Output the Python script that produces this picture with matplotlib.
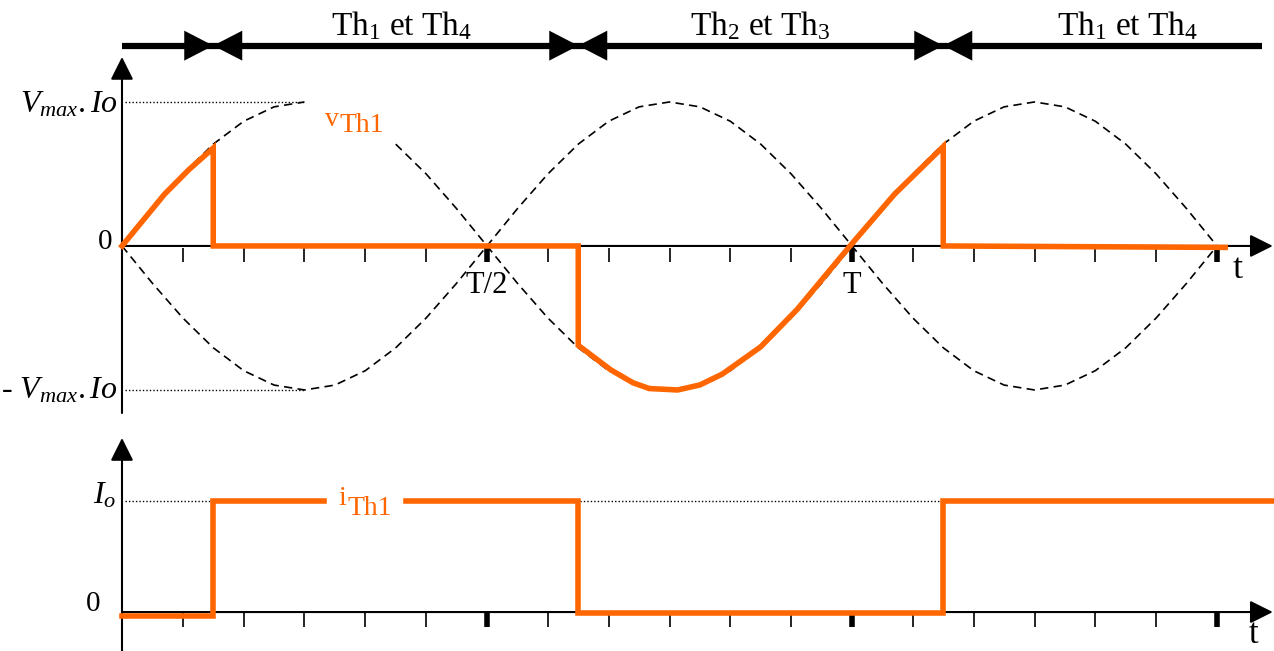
import numpy as np
import matplotlib
matplotlib.use('Agg')
import matplotlib.pyplot as plt
from matplotlib.patches import Rectangle

plt.rcParams['font.family'] = 'Liberation Serif'
plt.rcParams['mathtext.fontset'] = 'custom'
plt.rcParams['mathtext.rm'] = 'Liberation Serif'
plt.rcParams['mathtext.it'] = 'Liberation Serif:italic'

orange = '#ff6600'

# source waveform v = Vmax.sin(wt), sampled every 15 deg (in units of Vmax)
sine_deg = np.arange(0, 541, 15)
sine_val = [0, 0.259, 0.5, 0.707, 0.866, 0.966, 1, 0.966, 0.866, 0.707, 0.5, 0.259,
            0, -0.259, -0.5, -0.707, -0.866, -0.966, -1, -0.966, -0.866, -0.707, -0.5, -0.259,
            0, 0.259, 0.5, 0.707, 0.866, 0.966, 1, 0.966, 0.866, 0.707, 0.5, 0.259, 0]

# thyristor voltage vTh1 (units of Vmax)
vth_deg = [0, 21, 33, 45, 45, 225, 225, 241, 252, 260, 274, 285, 296, 315, 333, 359, 381, 405, 405, 544]
vth_val = [0, 0.36, 0.53, 0.68, 0, 0, -0.69, -0.86, -0.95, -0.99, -1.0, -0.965, -0.89, -0.70, -0.44,
           0, 0.36, 0.69, 0, -0.01]

# thyristor current iTh1 (units of Io)
ith_deg = [0, 45, 45, 225, 225, 405, 405, 568]
ith_val = [-0.04, -0.04, 1, 1, -0.01, -0.01, 1, 1]

# firing instants and conduction labels
switch_deg = [45, 225, 405]
cond_pos = [138, 315, 496]
cond_lab = [r'Th$_1$ et Th$_4$', r'Th$_2$ et Th$_3$', r'Th$_1$ et Th$_4$']

tick_deg = np.arange(30, 541, 30)
major_deg = [180, 360, 540]

fig = plt.figure(figsize=(12.74, 6.51), dpi=100)
xl = (-60.16, 568.1)

# ---------------- voltage panel ----------------
ax = fig.add_axes([0, 1 - 430 / 651, 1, 430 / 651])
ax.set_xlim(*xl)
ax.set_ylim(-1.278, 1.708)
ax.set_axis_off()

arr = dict(arrowstyle='-|>,head_length=0.7,head_width=0.35', mutation_scale=20,
           lw=1.5, color='k', shrinkA=0, shrinkB=0)
ax.annotate('', xy=(0, 1.3125), xytext=(0, -1.16), arrowprops=arr)
ax.annotate('', xy=(567.5, 0), xytext=(0, 0), arrowprops=arr)

for d in tick_deg:
    big = d in major_deg
    ax.plot([d, d], [-0.015, -0.11], color='k', lw=4 if big else 1.2,
            solid_capstyle='butt')

# dashed source waves (gap in the first lobe for the label)
sv = np.array(sine_val)
dash = dict(color='k', lw=1.2, ls=(0, (5, 3.2)), zorder=2)
ax.plot(sine_deg[:7], sv[:7], **dash)
ax.plot(sine_deg[9:], sv[9:], **dash)
ax.plot(sine_deg, -sv, **dash)

ax.hlines([1, -1], 1.5, 90, colors='k', lw=1, linestyles=(0, (1, 1.5)))

ax.plot(vth_deg, vth_val, color=orange, lw=4, zorder=3, solid_joinstyle='miter')

# conduction bar with firing markers
ybar = 1.391
ax.plot([0, 562], [ybar, ybar], color='k', lw=4.5, solid_capstyle='butt')
L, h = 14.3, 0.104
for a in switch_deg:
    ax.fill([a - L, a - L, a], [ybar + h, ybar - h, ybar], color='k', lw=0)
    ax.fill([a + L, a + L, a], [ybar + h, ybar - h, ybar], color='k', lw=0)
for p, s in zip(cond_pos, cond_lab):
    ax.text(p, 1.465, s, fontsize=24, ha='center', va='baseline')

ax.text(-2, 0.93, r'$V_{max}.Io$', fontsize=23, ha='right', va='baseline')
ax.text(-2, -1.056, r'- $V_{max}.Io$', fontsize=23, ha='right', va='baseline')
ax.text(-4.5, 0.03, '0', fontsize=21, ha='right', va='center')
ax.text(180, -0.326, 'T/2', fontsize=22, ha='center', va='baseline')
ax.text(360, -0.326, 'T', fontsize=22, ha='center', va='baseline')
ax.text(550, -0.222, 't', fontsize=26, ha='center', va='baseline')

ax.text(100.1, 0.83, 'v', fontsize=20, color=orange, ha='left', va='baseline')
ax.text(107.5, 0.79, 'Th1', fontsize=20, color=orange, ha='left', va='baseline')

# ---------------- current panel ----------------
bx = fig.add_axes([0, 0, 1, 221 / 651])
bx.set_xlim(*xl)
bx.set_ylim(-0.351, 1.640)
bx.set_axis_off()

bx.annotate('', xy=(0, 1.568), xytext=(0, -0.351), arrowprops=arr)
bx.annotate('', xy=(567.5, 0), xytext=(0, 0), arrowprops=arr)
for d in tick_deg:
    big = d in major_deg
    bx.plot([d, d], [-0.01, -0.135], color='k', lw=4 if big else 1.2,
            solid_capstyle='butt')

bx.hlines(1, 1.5, 568, colors='k', lw=1, linestyles=(0, (1, 1.5)))
bx.plot(ith_deg, ith_val, color=orange, lw=4, zorder=3, solid_joinstyle='miter')
bx.add_patch(Rectangle((101, 0.8), 37, 0.4, color='white', zorder=4))

bx.text(106.5, 0.964, 'i', fontsize=20, color=orange, ha='left', va='baseline', zorder=5)
bx.text(111, 0.874, 'Th1', fontsize=20, color=orange, ha='left', va='baseline', zorder=5)

bx.text(-3, 0.98, r'$I_o$', fontsize=23, ha='right', va='baseline')
bx.text(-10.5, 0.07, '0', fontsize=21, ha='right', va='center')
bx.text(558, -0.35, 't', fontsize=25, ha='center', va='bottom')

fig.savefig('out.png', dpi=100)
